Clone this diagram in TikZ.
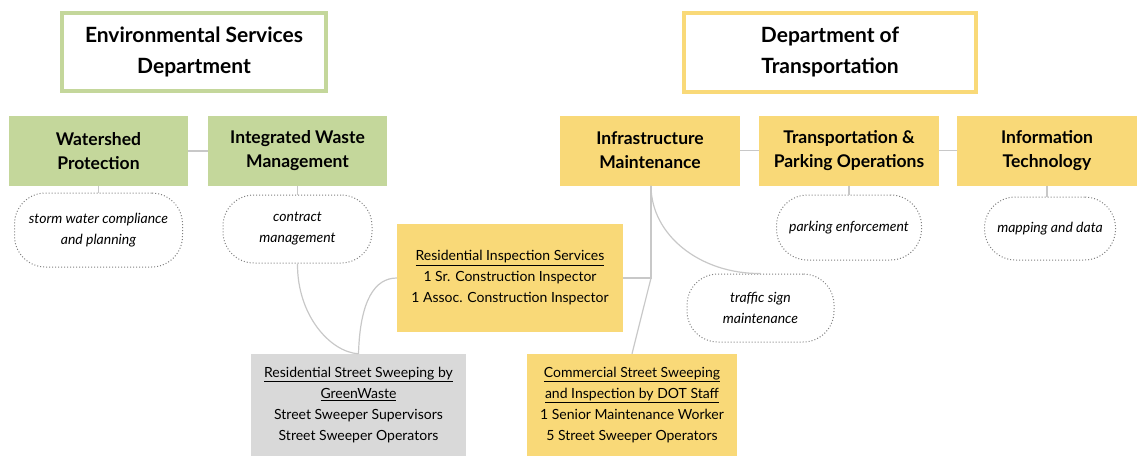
\documentclass[tikz,border=0pt]{standalone}
\usepackage{fontspec}
\setmainfont{Lato}
\usetikzlibrary{positioning}
\definecolor{esgreen}{HTML}{C4D79B}
\definecolor{dotyellow}{HTML}{F9D978}
\definecolor{sweepgray}{HTML}{D9D9D9}
\definecolor{linkgray}{HTML}{C8C8C8}

\begin{document}
\begin{tikzpicture}[x=1pt, y=-1pt,
    dept/.style={draw=#1, line width=4pt, fill=white, align=center, inner sep=0pt,
        font=\fontsize{21}{31}\selectfont\bfseries},
    unit/.style={fill=#1, align=center, inner sep=0pt, minimum width=179pt, minimum height=70pt,
        font=\fontsize{17.5}{24}\selectfont\bfseries},
    duty/.style={draw=gray, dotted, line width=1pt, rounded corners=31pt, align=center, inner sep=0pt,
        font=\fontsize{14}{21}\selectfont\itshape},
    staff/.style={fill=#1, align=center, inner sep=0pt,
        font=\fontsize{14}{21}\selectfont},
    link/.style={draw=linkgray, line width=1.2pt}]
    \useasboundingbox (0,0) rectangle (1137,456);

    % departments
    \node[dept=esgreen, minimum width=264pt, minimum height=78pt] (esd) at (194, 52) {Environmental Services\\Department};
    \node[dept=dotyellow, minimum width=292pt, minimum height=79pt] (dot) at (830, 52) {Department of\\Transportation};

    % divisions
    \node[unit=esgreen] (wshed) at (98.5, 151) {Watershed\\Protection};
    \node[unit=esgreen] (iwm) at (297.5, 151) {Integrated Waste\\Management};
    \node[unit=dotyellow, minimum width=180pt] (infra) at (650, 150.5) {Infrastructure\\Maintenance};
    \node[unit=dotyellow, minimum width=180pt] (tpo) at (849, 150.5) {Transportation \&\\Parking Operations};
    \node[unit=dotyellow, minimum width=180pt] (it) at (1047, 150.5) {Information\\Technology};

    % duties
    \node[duty, minimum width=168pt, minimum height=74pt] (storm) at (98.5, 230) {storm water compliance\\and planning};
    \node[duty, minimum width=149pt, minimum height=68pt] (contract) at (297.5, 229) {contract\\management};
    \node[duty, minimum width=145pt, minimum height=65pt] (parking) at (849, 227.5) {parking enforcement};
    \node[duty, minimum width=131pt, minimum height=63pt] (mapping) at (1050, 228.5) {mapping and data};
    \node[duty, minimum width=147pt, minimum height=68pt] (traffic) at (760.5, 308) {traffic sign\\maintenance};

    % staff
    \node[staff=dotyellow, minimum width=226pt, minimum height=108pt] (resinsp) at (510, 278)
        {\underline{Residential Inspection Services}\\1 Sr. Construction Inspector\\1 Assoc. Construction Inspector};
    \node[staff=sweepgray, minimum width=215pt, minimum height=102pt] (ressweep) at (358.5, 405)
        {\underline{Residential Street Sweeping by}\\\underline{GreenWaste}\\Street Sweeper Supervisors\\Street Sweeper Operators};
    \node[staff=dotyellow, minimum width=210pt, minimum height=102pt] (comm) at (632, 405)
        {\underline{Commercial Street Sweeping}\\\underline{and Inspection by DOT Staff}\\1 Senior Maintenance Worker\\5 Street Sweeper Operators};

    \coordinate (hub) at (651, 278);

    \draw[link] (wshed) -- (iwm);
    \draw[link] (infra) -- (tpo);
    \draw[link] (tpo) -- (it);
    \draw[link] (wshed.south) -- (wshed.south |- storm.north);
    \draw[link] (iwm.south) -- (iwm.south |- contract.north);
    \draw[link] (tpo.south) -- (tpo.south |- parking.north);
    \draw[link] (it.south) -- (it.south |- mapping.north);
    \draw[link] (infra.south -| hub) -- (hub) -- (resinsp.east);
    \draw[link] (hub) -- (comm.north);
    \draw[link] (infra.south -| hub) .. controls (651, 235) and (700, 274) .. (traffic.north);
    \draw[link] (resinsp.west) .. controls (375, 278) and (360, 300) .. (ressweep.north);
    \draw[link] (contract.south) .. controls (297, 315) and (330, 352) .. (ressweep.north);
\end{tikzpicture}
\end{document}
